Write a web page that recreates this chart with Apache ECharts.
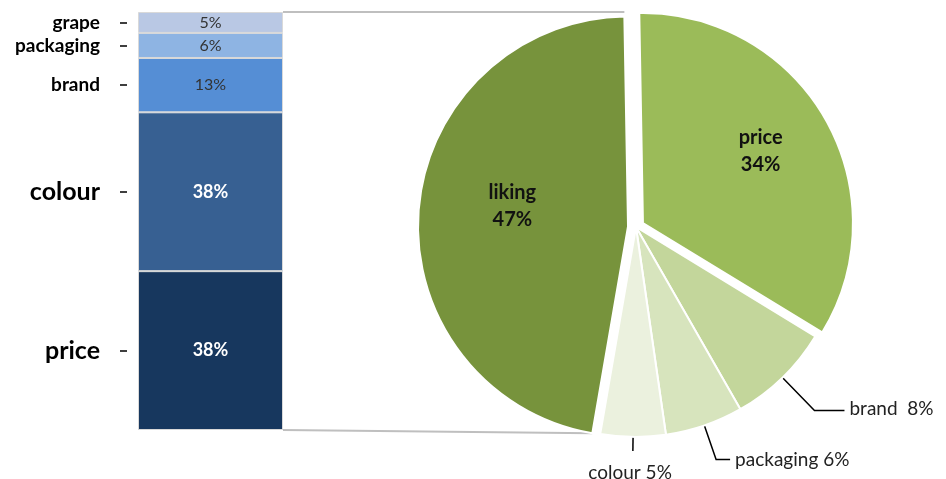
<!DOCTYPE html>
<html>
<head>
<meta charset="utf-8">
<script src="https://cdn.jsdelivr.net/npm/echarts@6/dist/echarts.min.js"></script>
<style>html,body{margin:0;padding:0;background:#fff}#c{width:946px;height:479px}</style>
</head>
<body>
<div id="c"></div>
<script>
// ---- data ----
const barCategories = ['price', 'colour', 'brand', 'packaging', 'grape'];
const barValues = [38, 38, 13, 6, 5];
const pieCategories = ['price', 'brand', 'packaging', 'colour', 'liking'];
const pieValues = [34, 8, 6, 5, 47];

// ---- styles ----
const barColors = ['#17375E', '#376092', '#558ED5', '#8EB4E3', '#B9C8E4'];
const barLabelColors = ['#ffffff', '#ffffff', '#333333', '#333333', '#333333'];
const barLabelBold = [true, true, false, false, false];
const pieColors = ['#9BBB59', '#C3D69B', '#D7E4BD', '#EBF1DE', '#77933C'];
const FONT = 'Lato';

const gridLeft = 138, gridWidth = 145, gridTop = 12, gridBottom = 49;
const W = 946, H = 479;
const pieCenter = [636, 227], pieRadius = 210, startAngle = 91, selOffset = 8;

// midpoints of stacked segments for the axis labels
const mids = [];
let acc = 0;
barValues.forEach(v => { mids.push(acc + v / 2); acc += v; });
const midName = {};
mids.forEach((m, i) => { midName[m.toFixed(2)] = i; });

const barSeries = barCategories.map((name, i) => ({
  name: name,
  type: 'bar',
  stack: 'total',
  barWidth: '100%',
  data: [barValues[i]],
  itemStyle: { color: barColors[i], borderColor: '#d9d9d9', borderWidth: 1 },
  label: {
    show: true,
    position: 'inside',
    formatter: '{c}%',
    color: barLabelColors[i],
    fontWeight: barLabelBold[i] ? 'bold' : 'normal',
    fontSize: barLabelBold[i] ? 18 : 16,
    fontFamily: FONT
  },
  emphasis: { disabled: true }
}));

const pieLabelCfg = {
  price: { position: 'inside', dx: 24, dy: -18 },
  liking: { position: 'inside', dx: -8, dy: -12 },
  brand: { position: 'outside', len: 46, len2: 30, dx: 0, dy: -2 },
  packaging: { position: 'outside', len: 36, len2: 14, dx: 0, dy: 0 },
  colour: { position: 'outside', len: 14, len2: 0, dx: 44, dy: 22 }
};

const pieData = pieCategories.map((name, i) => {
  const cfg = pieLabelCfg[name];
  const d = {
    name: name,
    value: pieValues[i],
    selected: name === 'liking' || name === 'price',
    itemStyle: { color: pieColors[i] }
  };
  if (cfg.position === 'inside') {
    d.label = {
      position: 'inside',
      formatter: '{b}\n{c}%',
      fontWeight: 'bold',
      fontSize: 20,
      lineHeight: 27,
      color: '#111'
    };
    d.labelLine = { show: false };
  } else {
    d.label = {
      position: 'outside',
      formatter: name === 'brand' ? '{b}  {c}%' : '{b} {c}%',
      fontSize: 19,
      color: '#222'
    };
    d.labelLine = { show: true, length: cfg.len, length2: cfg.len2, lineStyle: { color: '#000', width: 1.5 } };
  }
  return d;
});

// connector lines from bar to the liking slice
const likingIdx = pieCategories.indexOf('liking');
const total = pieValues.reduce((a, b) => a + b, 0);
let before = 0;
for (let i = 0; i < likingIdx; i++) before += pieValues[i];
const a0 = (90 - startAngle) + before / total * 360;
const a1 = a0 + pieValues[likingIdx] / total * 360;
const am = (a0 + a1) / 2;
const rad = d => d * Math.PI / 180;
const cx = pieCenter[0] + selOffset * Math.sin(rad(am));
const cy = pieCenter[1] - selOffset * Math.cos(rad(am));
const topPt = [cx + pieRadius * Math.sin(rad(a1)), cy - pieRadius * Math.cos(rad(a1))];
const botPt = [cx + pieRadius * Math.sin(rad(a0)), cy - pieRadius * Math.cos(rad(a0))];
const barRight = gridLeft + gridWidth;
const barTop = gridTop, barBottom = H - gridBottom;

const chart = echarts.init(document.getElementById('c'));
chart.setOption({
  animation: false,
  textStyle: { fontFamily: FONT },
  grid: { left: gridLeft, width: gridWidth, top: gridTop, bottom: gridBottom },
  xAxis: { type: 'category', data: ['all'], show: false },
  yAxis: {
    type: 'value', min: 0, max: 100,
    offset: 11,
    splitLine: { show: false },
    axisLine: { show: false },
    axisTick: { show: true, customValues: mids, length: 7, lineStyle: { color: '#000', width: 1.5 } },
    axisLabel: {
      customValues: mids,
      margin: 27,
      formatter: function (v) {
        const i = midName[Number(v).toFixed(2)];
        if (i === undefined) return '';
        const big = barValues[i] >= 20;
        return '{' + (big ? 'b' : 's') + '|' + barCategories[i] + '}';
      },
      rich: {
        b: { fontSize: 25, fontWeight: 'bold', color: '#000', fontFamily: FONT },
        s: { fontSize: 19, fontWeight: 'bold', color: '#000', fontFamily: FONT }
      }
    }
  },
  series: barSeries.concat([{
    type: 'pie',
    center: pieCenter,
    radius: pieRadius,
    startAngle: startAngle,
    clockwise: true,
    selectedMode: 'multiple',
    selectedOffset: selOffset,
    avoidLabelOverlap: false,
    itemStyle: { borderColor: '#fff', borderWidth: 2 },
    emphasis: { disabled: true },
    label: { fontFamily: FONT },
    labelLayout: function (params) {
      const cfg = pieLabelCfg[pieCategories[params.dataIndex]];
      return { dx: cfg.dx || 0, dy: cfg.dy || 0 };
    },
    data: pieData
  }]),
  graphic: [
    { type: 'line', shape: { x1: barRight, y1: barTop, x2: topPt[0], y2: barTop }, style: { stroke: '#BFBFBF', lineWidth: 2 }, z: -1 },
    { type: 'line', shape: { x1: barRight, y1: barBottom, x2: botPt[0], y2: botPt[1] }, style: { stroke: '#BFBFBF', lineWidth: 2 }, z: -1 }
  ]
});
</script>
</body>
</html>
